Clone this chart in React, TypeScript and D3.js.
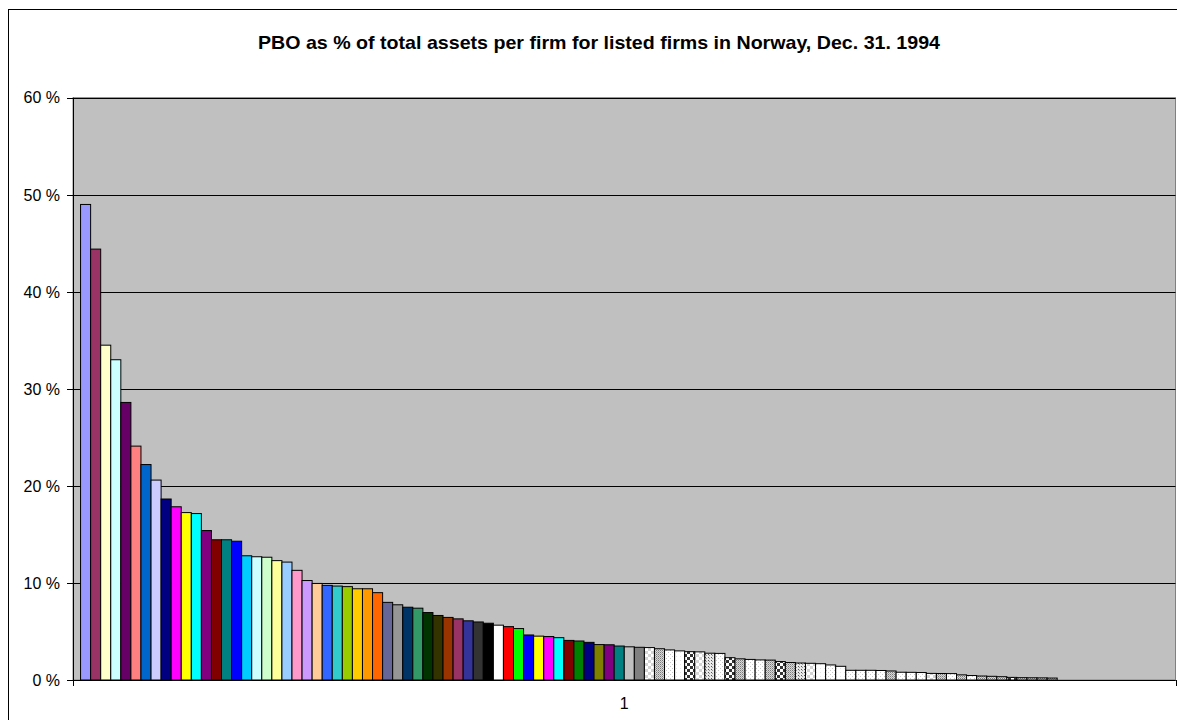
import React from "react";
import * as d3 from "d3";

// PBO as share of total assets, one series per listed firm (sorted, %)
const firmValues: number[] = [
  49.0, 44.4, 34.5, 33.0, 28.6, 24.1, 22.2, 20.6, 18.65, 17.85,
  17.25, 17.15, 15.4, 14.45, 14.45, 14.3, 12.8, 12.7, 12.65, 12.3,
  12.15, 11.3, 10.25, 9.95, 9.75, 9.68, 9.62, 9.4, 9.4, 9.0,
  8.0, 7.75, 7.5, 7.4, 6.95, 6.65, 6.45, 6.3, 6.1, 5.98,
  5.85, 5.65, 5.5, 5.3, 4.64, 4.52, 4.48, 4.36, 4.08, 4.02,
  3.88, 3.65, 3.63, 3.5, 3.42, 3.37, 3.34, 3.22, 3.1, 3.0,
  2.92, 2.9, 2.76, 2.74, 2.3, 2.18, 2.12, 2.07, 2.05, 1.9,
  1.8, 1.75, 1.72, 1.68, 1.55, 1.41, 1.0, 1.0, 1.0, 0.98,
  0.93, 0.8, 0.79, 0.77, 0.68, 0.67, 0.66, 0.53, 0.46, 0.41,
  0.38, 0.34, 0.27, 0.24, 0.23, 0.22, 0.2, 0, 0, 0,
  0, 0, 0, 0, 0, 0, 0, 0,
];

const categoryLabels: string[] = ["1"];
const yTicks: number[] = [0, 10, 20, 30, 40, 50, 60];
const chartTitle = "PBO as % of total assets per firm for listed firms in Norway, Dec. 31. 1994";

// Default spreadsheet series fills
const seriesColors: string[] = [
  "#9999FF", "#993366", "#FFFFCC", "#CCFFFF", "#660066", "#FF8080", "#0066CC", "#CCCCFF",
  "#000080", "#FF00FF", "#FFFF00", "#00FFFF", "#800080", "#800000", "#008080", "#0000FF",
  "#00CCFF", "#CCFFFF", "#CCFFCC", "#FFFF99", "#99CCFF", "#FF99CC", "#CC99FF", "#FFCC99",
  "#3366FF", "#33CCCC", "#99CC00", "#FFCC00", "#FF9900", "#FF6600", "#666699", "#969696",
  "#003366", "#339966", "#003300", "#333300", "#993300", "#993366", "#333399", "#333333",
  "#000000", "#FFFFFF", "#FF0000", "#00FF00", "#0000FF", "#FFFF00", "#FF00FF", "#00FFFF",
  "#800000", "#008000", "#000080", "#808000", "#800080", "#008080", "#C0C0C0", "#808080",
];

// Pattern fills used once the colour list is exhausted
const patternCycle: string[] = [
  "pA", "pB", "pC", "pD", "pE", "pA", "pF", "pC", "pE", "pB",
  "pC", "pC", "pB", "pE", "pB", "pF", "pA", "pD", "pC", "pD",
  "pC", "pC", "pC", "pC", "pB", "pC", "pC", "pC", "pA", "pB",
  "pC", "pB", "pC", "pB", "pB", "pB", "pE", "pB", "pB", "pB",
  "pB", "pB", "pB", "pB", "pB", "pB", "pB", "pB", "pB", "pB",
  "pB", "pB",
];

const W = 1177;
const H = 720;
const plot = { left: 73, right: 1175.5, top: 97.7, bottom: 680 };
const font = "Arial, 'Liberation Sans', sans-serif";

function fillFor(i: number): string {
  if (i < seriesColors.length) return seriesColors[i];
  return `url(#${patternCycle[i - seriesColors.length]})`;
}

export default function App() {
  const y = d3.scaleLinear().domain([0, 60]).range([plot.bottom, plot.top]);
  const xCat = d3
    .scaleBand<string>()
    .domain(categoryLabels)
    .range([plot.left, plot.right])
    .padding(0);
  const ids = firmValues.map((_, i) => String(i));
  const xSeries = d3
    .scaleBand<string>()
    .domain(ids)
    .range([0, xCat.bandwidth()])
    .paddingInner(0)
    .paddingOuter(0.75);

  const catX = xCat(categoryLabels[0]) ?? plot.left;

  return (
    <div style={{ position: "absolute", left: 0, top: 0 }}>
      <svg width={W} height={H} style={{ display: "block" }}>
        <defs>
          <pattern id="pA" width="6" height="6" patternUnits="userSpaceOnUse">
            <rect width="6" height="6" fill="#ffffff" />
            <rect width="3" height="3" fill="#d4d4d4" />
            <rect x="3" y="3" width="3" height="3" fill="#d4d4d4" />
          </pattern>
          <pattern id="pB" width="2" height="2" patternUnits="userSpaceOnUse">
            <rect width="2" height="2" fill="#d8d8d8" />
            <rect width="1" height="1" fill="#7a7a7a" />
            <rect x="1" y="1" width="1" height="1" fill="#a8a8a8" />
          </pattern>
          <pattern id="pC" width="4" height="4" patternUnits="userSpaceOnUse">
            <rect width="4" height="4" fill="#ffffff" />
            <rect width="1" height="1" fill="#c8c8c8" />
            <rect x="2" y="2" width="1" height="1" fill="#c8c8c8" />
          </pattern>
          <pattern id="pD" width="4" height="4" patternUnits="userSpaceOnUse">
            <rect width="4" height="4" fill="#ffffff" />
            <rect width="1" height="1" fill="#e6e6e6" />
          </pattern>
          <pattern id="pE" width="6" height="6" patternUnits="userSpaceOnUse">
            <rect width="6" height="6" fill="#ffffff" />
            <rect width="3" height="3" fill="#333333" />
            <rect x="3" y="3" width="3" height="3" fill="#333333" />
          </pattern>
          <pattern id="pF" width="3" height="3" patternUnits="userSpaceOnUse">
            <rect width="3" height="3" fill="#e8e8e8" />
            <rect width="1" height="1" fill="#555555" />
            <rect x="1" y="1" width="1" height="1" fill="#999999" />
          </pattern>
        </defs>

        <rect x={0} y={0} width={W} height={H} fill="#ffffff" />
        {/* chart border */}
        <rect x={8.5} y={9.5} width={W + 10} height={H + 10} fill="none" stroke="#000" strokeWidth={1} />

        <text
          x={599}
          y={48.5}
          textAnchor="middle"
          fontFamily={font}
          fontWeight="bold"
          fontSize={18.5}
          textLength={682}
          lengthAdjust="spacingAndGlyphs"
          fill="#000"
        >
          {chartTitle}
        </text>

        {/* plot area */}
        <rect
          x={plot.left}
          y={plot.top}
          width={plot.right - plot.left}
          height={plot.bottom - plot.top}
          fill="#C0C0C0"
          stroke="#808080"
          strokeWidth={1}
        />

        {/* gridlines */}
        {yTicks.map((t) => (
          <line
            key={`g${t}`}
            x1={plot.left}
            x2={plot.right}
            y1={Math.round(y(t)) + 0.5}
            y2={Math.round(y(t)) + 0.5}
            stroke="#000"
            strokeWidth={1}
          />
        ))}

        {/* bars */}
        {firmValues.map((v, i) => {
          const x0 = catX + (xSeries(String(i)) ?? 0);
          const top = y(v);
          const h = y(0) - top;
          if (h <= 0) return null;
          return (
            <rect
              key={i}
              x={x0}
              y={top}
              width={xSeries.bandwidth()}
              height={h}
              fill={fillFor(i)}
              stroke="#000"
              strokeWidth={1}
            />
          );
        })}

        {/* value axis */}
        <line x1={plot.left + 0.5} x2={plot.left + 0.5} y1={plot.top} y2={plot.bottom + 0.5} stroke="#000" />
        {yTicks.map((t) => (
          <g key={`t${t}`}>
            <line
              x1={plot.left - 6}
              x2={plot.left}
              y1={Math.round(y(t)) + 0.5}
              y2={Math.round(y(t)) + 0.5}
              stroke="#000"
            />
            <text
              x={60}
              y={y(t)}
              dy="0.36em"
              textAnchor="end"
              fontFamily={font}
              fontSize={16}
              fill="#000"
            >
              {`${t} %`}
            </text>
          </g>
        ))}

        {/* category axis */}
        <line x1={plot.left} x2={plot.right} y1={plot.bottom + 0.5} y2={plot.bottom + 0.5} stroke="#000" />
        {[plot.left, plot.right].map((x, i) => (
          <line
            key={`ct${i}`}
            x1={Math.round(x) + 0.5}
            x2={Math.round(x) + 0.5}
            y1={plot.bottom}
            y2={plot.bottom + 6}
            stroke="#000"
          />
        ))}
        {categoryLabels.map((c) => (
          <text
            key={c}
            x={(xCat(c) ?? 0) + xCat.bandwidth() / 2}
            y={703}
            dy="0.36em"
            textAnchor="middle"
            fontFamily={font}
            fontSize={16}
            fill="#000"
          >
            {c}
          </text>
        ))}
      </svg>
    </div>
  );
}
